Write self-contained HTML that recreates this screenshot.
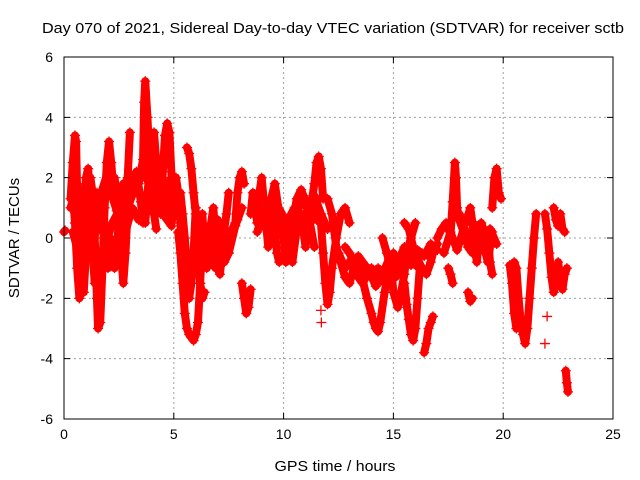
<!DOCTYPE html>
<html><head><meta charset="utf-8"><style>
body{margin:0;background:#fff}
svg{display:block;font-family:"Liberation Sans",sans-serif}
</style></head><body>
<svg id="chart" width="640" height="480" xmlns="http://www.w3.org/2000/svg">
<rect width="640" height="480" fill="#fff"/>
<text x="333" y="33" font-size="15" text-anchor="middle" textLength="582" lengthAdjust="spacingAndGlyphs">Day 070 of 2021, Sidereal Day-to-day VTEC variation (SDTVAR) for receiver sctb</text>
<text x="335" y="471" font-size="15" text-anchor="middle" textLength="121" lengthAdjust="spacingAndGlyphs">GPS time / hours</text>
<text x="19" y="238" font-size="15" text-anchor="middle" transform="rotate(-90 19 238)">SDTVAR / TECUs</text>
<g id="grid"></g><g id="marks"></g><g id="axes"></g>
</svg>
<script>
const xTicks=[0,5,10,15,20,25];
const yTicks=[-6,-4,-2,0,2,4,6];
const arcT=[
[0,0.05],
[0.3,0.4,0.5,0.55,0.6,0.7,0.8,0.9,1.0,1.1,1.2,1.3,1.4,1.5,1.55,1.65,1.75,1.85,1.95,2.05,2.15,2.3],
[0.4,0.5,0.6,0.7,0.8,0.9,1.0,1.1,1.2,1.3,1.4],
[1.5,1.7,1.9,2.0,2.1,2.2,2.3,2.5,2.7,2.9,3.0],
[2.3,2.4,2.5,2.6,2.7,2.8,2.9,3.1,3.3,3.5,3.6],
[3.0,3.2,3.4,3.6,3.65,3.7,3.8,3.9,4.0,4.1,4.2],
[3.7,3.8,3.9,4.0,4.1,4.2,4.3,4.4,4.5,4.6,4.7,4.8,4.9,5.0],
[4.6,4.7,4.8,4.9,5.0,5.1,5.2,5.3,5.4,5.5],
[5.6,5.7,5.8,5.9,6.0,6.1,6.2,6.3,6.4],
[5.2,5.3,5.4,5.5,5.6,5.7,5.8,5.9,6.0,6.1,6.2,6.3],
[5.3,5.4,5.5,5.6,5.7,5.8,5.9,6.0],
[6.2,6.3,6.4,6.5,6.6,6.7,6.8,6.9,7.0,7.1,7.2,7.3,7.4,7.5],
[6.5,6.7,6.9,7.1,7.3,7.5,7.6,7.8,7.9,8.0,8.1,8.2],
[8.1,8.2,8.3,8.4,8.5],
[8.5,8.6,8.7,8.8,8.9,9.0,9.1,9.2,9.3,9.4,9.5,9.6,9.7,9.8],
[9.0,9.2,9.4,9.6,9.8,10.0,10.1,10.2,10.4,10.6,10.8,11.0,11.2,11.4],
[10.2,10.4,10.6,10.8,11.0,11.2,11.4,11.5,11.6,11.7,11.8],
[11.5,11.7,11.8,11.9,12.0,12.1,12.2,12.4,12.6,12.8,13.0],
[12.0,12.2,12.4,12.6,12.8,13.0,13.2,13.4,13.6,13.8,14.0],
[12.8,13.0,13.2,13.4,13.6,13.8,14.0,14.1,14.2,14.3,14.4,14.6,14.8,15.0],
[14.5,14.7,14.9,15.0,15.2,15.3,15.5,15.6,15.8,16.0],
[15.5,15.6,15.7,15.8,15.9,16.0,16.1,16.2],
[15.5,15.7,15.9,16.1,16.3,16.5,16.7,16.8,17.0],
[16.4,16.5,16.6,16.7,16.8],
[17.0,17.2,17.4,17.6,17.7,17.8,17.85,17.9,18.0,18.2,18.4,18.6],
[17.5,17.6,17.7],
[18.3,18.5,18.6,18.7,18.8,18.9,19.0,19.1,19.2,19.3,19.4],
[18.4,18.5,18.6],
[19.3,19.4,19.5],
[19.5,19.6,19.7,19.8,19.9],
[20.5,20.6,20.7,20.8,20.9,21.0,21.1,21.2,21.3,21.4,21.5],
[20.3,20.4,20.5,20.6],
[21.9,22.0,22.1,22.2,22.3,22.4,22.5,22.6,22.7,22.8,22.9],
[22.3,22.4,22.5,22.6,22.7,22.8],
[22.85,22.9,22.95],
[21.9],[22.0],[11.7],[11.72],
[0.3,0.6,0.9,1.2,1.5,1.8,2.1,2.4,2.7,3.0,3.3,3.6,3.9,4.2,4.5,4.8,5.1],
[0.4,0.7,1.0,1.3,1.6,1.9,2.2,2.5,2.8,3.1,3.4,3.7,4.0,4.3,4.6,4.9],
[0.5,0.8,1.1,1.4,1.7,2.0,2.3,2.6,2.9,3.2],
[6.0,6.3,6.6,6.9,7.2,7.5,7.8,8.1],
[6.1,6.4,6.7,7.0,7.3,7.6,7.9],
[8.7,9.0,9.3,9.6,9.9,10.2,10.5,10.8,11.1,11.4,11.7,12.0],
[8.8,9.1,9.4,9.7,10.0,10.3,10.6,10.9,11.2,11.5],
[12.5,12.8,13.1,13.4,13.7,14.0,14.3,14.6,14.9,15.2,15.5,15.8,16.1,16.4,16.7,17.0],
[13.0,13.3,13.6,13.9,14.2,14.5,14.8,15.1,15.4,15.7,16.0,16.3,16.6],
[17.3,17.6,17.9,18.2,18.5,18.8,19.1,19.4,19.7],
[18.0,18.3,18.6,18.9,19.2,19.5]
];
const arcV=[
[0.2,0.25],
[1.3,2.5,3.4,3.2,1.5,-0.5,-1.5,-1.8,-0.5,1,2,1.5,0,-2,-3,-2.8,-1,1,2.5,3.2,2.5,1.2],
[1.5,0.5,-1,-2,-1.2,0.5,2,2.3,1,-0.5,-1.5],
[1.5,0.8,-0.5,-1,0,-0.8,-1,0.5,1.5,2,3.5],
[2,1.5,1,-0.5,-1.5,-0.5,1,1.8,2.2,1.2,0.5],
[2,1.5,1.8,2.6,4.5,5.2,4.0,2.5,1.5,0.8,0.3],
[0.5,1.5,2.2,3,3.5,2.5,1,0.8,2.2,3.4,3.8,3.5,2,1.2],
[1.5,0.8,1.2,0.5,1.0,2.0,1.5,0.5,-0.5,-1.5],
[3.0,2.8,2.3,1.5,0.8,-0.5,-1.5,-2,-1.8],
[0.2,-0.5,-1.5,-2.5,-3,-3.2,-3.3,-3.4,-3.2,-2.8,-1.5,0],
[1.5,0.8,0,-1,-2,-1.5,-0.5,1],
[0.5,0.8,-0.5,-1,-0.3,0.5,1,0,-1,-1.2,-0.5,0.3,0.8,1.5],
[0,-0.8,-1,-0.5,-0.8,-0.5,0.2,0.5,1.5,2,2.2,1.8],
[-1.5,-2,-2.5,-2.3,-1.7],
[0.8,1.5,1.0,0.5,1.5,2.0,1.2,0.5,-0.3,0.5,1,0.3,-0.5,-0.8],
[0.5,0.3,1.2,1.8,0.8,0,-0.8,-0.5,0.5,1.3,1.6,1.2,0.5,-0.3],
[-0.3,-0.8,0.3,0.8,-0.3,0.8,1.8,2.5,2.7,2.3,1.3],
[1.2,0.5,-0.5,-1.5,-2.2,-1.8,-1,0,0.8,1,0.5],
[1.3,0.8,-0.3,-0.8,-1.3,-1.5,-1.0,-0.6,-0.8,-1.0,-1.0],
[-0.3,-0.5,-0.8,-1.0,-1.4,-2.0,-2.5,-2.8,-3.0,-3.1,-2.8,-1.8,-1.0,-0.5],
[0,-0.5,-1.0,-1.8,-2.3,-2.0,-1.2,-0.5,0,0.5],
[-1.5,-2.2,-2.7,-3.2,-3.4,-3.0,-2.0,-1.0],
[0.5,0.3,-0.3,-0.7,-1,-1.2,-0.8,-0.5,-0.2],
[-3.8,-3.5,-3.0,-2.8,-2.6],
[0,0.3,0.5,0.1,1.2,2.5,2.0,1,0.6,0.2,-0.3,-0.5],
[-1.0,-1.2,-1.5],
[0.5,1,0.5,-0.2,-0.8,0,0.5,0.3,-0.5,-0.8,-0.3],
[-1.8,-2.1,-2.0],
[0,-0.8,-1.2],
[1.0,2.0,2.3,1.5,1.3],
[-0.8,-1.0,-2.0,-2.8,-3.2,-3.5,-3,-2.0,-1.0,0.0,0.8],
[-0.9,-1.5,-2.5,-3.0],
[0.8,0.3,-0.5,-1.3,-1.8,-1.5,-0.8,-1.3,-1.7,-1.2,-1.0],
[1.0,0.6,0.4,0.8,0.3,0.2],
[-4.4,-4.8,-5.1],
[-3.5],[-2.6],[-2.4],[-2.8],
[1.0,1.8,0.8,1.5,0.6,1.2,1.6,0.9,1.8,1.4,2.0,2.3,1.7,2.0,1.4,1.9,1.0],
[0.2,-0.6,0.3,-0.3,0.8,-0.2,0.5,0.9,0.2,1.0,0.6,1.2,0.9,1.6,0.7,0.4],
[2.0,1.0,1.8,0.8,1.5,2.2,1.2,0.4,1.0,1.6],
[0.3,-0.4,0.2,-0.6,0.0,-0.5,0.4,1.0],
[-0.5,0.4,-0.2,0.6,-0.3,0.2,0.6],
[1.0,0.6,1.2,0.8,0.2,0.6,1.0,0.4,0.9,1.4,0.8,0.3],
[0.2,0.9,0.5,1.1,0.7,0.2,0.8,1.4,0.9,0.6],
[-0.5,-1.0,-0.7,-1.2,-0.9,-1.3,-1.0,-1.5,-1.1,-0.8,-0.3,-0.9,-0.4,-0.6,-0.2,-0.4],
[-0.8,-1.2,-1.5,-1.1,-1.6,-1.2,-0.7,-1.3,-0.8,-0.4,-0.9,-0.5,-0.6],
[-0.5,0.2,-0.4,0.3,-0.2,0.4,-0.1,0.3,-0.2],
[0.8,0.2,-0.4,0.4,-0.5,0.2]
];
const NS="http://www.w3.org/2000/svg";
const X0=64,X1=613,Y0=419,Y1=57;
const sx=t=>X0+(t-0)/(25-0)*(X1-X0);
const sy=v=>Y0-(v+6)/12*(Y0-Y1);
function mk(tag,attrs,parent){const e=document.createElementNS(NS,tag);for(const k in attrs)e.setAttribute(k,attrs[k]);parent.appendChild(e);return e;}
const grid=document.getElementById('grid'),marks=document.getElementById('marks'),axes=document.getElementById('axes');
xTicks.forEach(t=>{
  const x=sx(t);
  if(t>0&&t<25){const g=mk('line',{x1:x,x2:x,y1:Y1,y2:Y0,stroke:'#a0a0a0','stroke-dasharray':'2,3'},grid);
  
  }
  const tk=mk('path',{d:`M${x},${Y0}v-6M${x},${Y1}v6`,stroke:'#000'},axes);
  
  
  const l=mk('text',{x:x,y:Y0+20,'font-size':14,'text-anchor':'middle'},axes);l.textContent=t;
  
  
});
yTicks.forEach(v=>{
  const y=sy(v);
  if(v>-6&&v<6){const g=mk('line',{x1:X0,x2:X1,y1:y,y2:y,stroke:'#a0a0a0','stroke-dasharray':'2,3'},grid);
  
  }
  const tk=mk('path',{d:`M${X0},${y}h6M${X1},${y}h-6`,stroke:'#000'},axes);
  
  
  const l=mk('text',{x:X0-11,y:y+5,'font-size':14,'text-anchor':'end'},axes);l.textContent=v;
  
  
});
const fr=mk('rect',{x:X0,y:Y1,width:X1-X0,height:Y0-Y1,fill:'none',stroke:'#000'},axes);


arcT.forEach((ts,i)=>{
  const vs=arcV[i];
  if(ts.length>1){
    const pts=ts.map((t,j)=>sx(t)+','+sy(vs[j])).join(' ');
    const pl=mk('polyline',{points:pts,fill:'none',stroke:'#ff0000','stroke-width':8,'stroke-linejoin':'round','stroke-linecap':'round'},marks);
    
    
  }
  ts.forEach((t,j)=>{
    const x=sx(t),y=sy(vs[j]);
    const p=mk('path',{d:`M${x-5},${y}h10M${x},${y-5}v10`,stroke:'#ff0000','stroke-width':1.3},marks);
    
    
  });
});
</script>
</body></html>
